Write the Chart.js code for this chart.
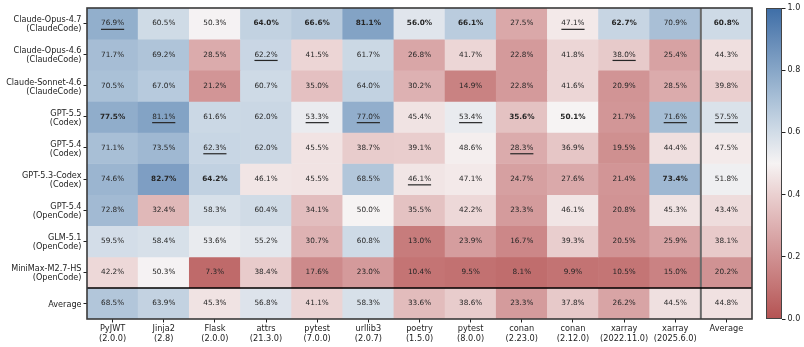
<!DOCTYPE html>
<html><head><meta charset="utf-8">
<script src="https://cdn.jsdelivr.net/npm/chart.js@4"></script>
<style>
html,body{margin:0;padding:0;background:#fff;}
#wrap{position:relative;width:804px;height:347px;overflow:hidden;}
#main{position:absolute;left:0;top:0;}
#cb{position:absolute;left:766px;top:0;}
</style></head><body>
<div id="wrap"><canvas id="main" width="804" height="347"></canvas><canvas id="cb" width="38" height="347"></canvas></div>
<script>
const rowLabels = [
  ["Claude-Opus-4.7","(ClaudeCode)"],
  ["Claude-Opus-4.6","(ClaudeCode)"],
  ["Claude-Sonnet-4.6","(ClaudeCode)"],
  ["GPT-5.5","(Codex)"],
  ["GPT-5.4","(Codex)"],
  ["GPT-5.3-Codex","(Codex)"],
  ["GPT-5.4","(OpenCode)"],
  ["GLM-5.1","(OpenCode)"],
  ["MiniMax-M2.7-HS","(OpenCode)"],
  ["Average"]
];
const colLabels = [
  ["PyJWT","(2.0.0)"],["Jinja2","(2.8)"],["Flask","(2.0.0)"],["attrs","(21.3.0)"],
  ["pytest","(7.0.0)"],["urllib3","(2.0.7)"],["poetry","(1.5.0)"],["pytest","(8.0.0)"],
  ["conan","(2.23.0)"],["conan","(2.12.0)"],["xarray","(2022.11.0)"],["xarray","(2025.6.0)"],["Average"]
];
const claudeOpus47   = [76.9,60.5,50.3,64.0,66.6,81.1,56.0,66.1,27.5,47.1,62.7,70.9,60.8];
const claudeOpus46   = [71.7,69.2,28.5,62.2,41.5,61.7,26.8,41.7,22.8,41.8,38.0,25.4,44.3];
const claudeSonnet46 = [70.5,67.0,21.2,60.7,35.0,64.0,30.2,14.9,22.8,41.6,20.9,28.5,39.8];
const gpt55Codex     = [77.5,81.1,61.6,62.0,53.3,77.0,45.4,53.4,35.6,50.1,21.7,71.6,57.5];
const gpt54Codex     = [71.1,73.5,62.3,62.0,45.5,38.7,39.1,48.6,28.3,36.9,19.5,44.4,47.5];
const gpt53Codex     = [74.6,82.7,64.2,46.1,45.5,68.5,46.1,47.1,24.7,27.6,21.4,73.4,51.8];
const gpt54OpenCode  = [72.8,32.4,58.3,60.4,34.1,50.0,35.5,42.2,23.3,46.1,20.8,45.3,43.4];
const glm51OpenCode  = [59.5,58.4,53.6,55.2,30.7,60.8,13.0,23.9,16.7,39.3,20.5,25.9,38.1];
const minimaxOpenCode= [42.2,50.3,7.3,38.4,17.6,23.0,10.4,9.5,8.1,9.9,10.5,15.0,20.2];
const averageRow     = [68.5,63.9,45.3,56.8,41.1,58.3,33.6,38.6,23.3,37.8,26.2,44.5,44.8];
const rowValues = [claudeOpus47,claudeOpus46,claudeSonnet46,gpt55Codex,gpt54Codex,gpt53Codex,gpt54OpenCode,glm51OpenCode,minimaxOpenCode,averageRow];
const colorbarTicks = [0.0,0.2,0.4,0.6,0.8,1.0];

const FONT = '"DejaVu Sans", sans-serif';
Chart.defaults.font.family = FONT;

const cmapStops = [
  [0.00,[180,82,82]],[0.10,[195,115,115]],[0.20,[208,145,146]],[0.30,[221,176,177]],
  [0.40,[234,208,208]],[0.50,[246,243,243]],[0.60,[209,220,231]],[0.70,[172,194,216]],
  [0.80,[135,166,199]],[0.90,[100,138,183]],[1.00,[62,110,167]]
];
function cmap(v){
  v = Math.max(0, Math.min(1, v));
  for (let i=1;i<cmapStops.length;i++){
    const [p1,c1]=cmapStops[i-1],[p2,c2]=cmapStops[i];
    if (v<=p2){
      const t=(v-p1)/(p2-p1);
      return 'rgb('+c1.map((c,k)=>Math.round(c+(c2[k]-c)*t)).join(',')+')';
    }
  }
  return 'rgb(62,110,167)';
}

// rank per column among model rows (exclude Average row)
const nModels = rowValues.length - 1;
const styleOf = rowValues.map(()=>colLabels.map(()=>''));
colLabels.forEach((_,j)=>{
  const col = [];
  for (let r=0;r<nModels;r++) col.push([rowValues[r][j], r]);
  col.sort((a,b)=>b[0]-a[0]);
  styleOf[col[0][1]][j]='best';
  styleOf[col[1][1]][j]='second';
});

const datasets = rowValues.map((vals,r)=>({
  label: rowLabels[r].join(' '),
  data: vals.map(()=>[r, r+1]),
  backgroundColor: vals.map(v=>cmap(v/100)),
  borderWidth: 0,
  barPercentage: 1,
  categoryPercentage: 1
}));

const cellText = {
  id:'cellText',
  afterDatasetsDraw(chart){
    const ctx = chart.ctx;
    ctx.save();
    ctx.textAlign='center'; ctx.textBaseline='middle';
    rowValues.forEach((vals,r)=>{
      const meta = chart.getDatasetMeta(r);
      vals.forEach((v,j)=>{
        const el = meta.data[j];
        const x = el.x, y = (el.y+el.base)/2;
        const s = styleOf[r][j];
        ctx.font = (s==='best'?'bold ':'')+'7.3px '+FONT;
        ctx.fillStyle = '#262626';
        const txt = v.toFixed(1)+'%';
        ctx.fillText(txt, x, y);
        if (s==='second'){
          const w = ctx.measureText(txt).width;
          ctx.strokeStyle='#262626'; ctx.lineWidth=1.2;
          ctx.beginPath(); ctx.moveTo(x-w/2, y+5.8); ctx.lineTo(x+w/2, y+5.8); ctx.stroke();
        }
      });
    });
    // separators
    const a = chart.chartArea;
    const lastMeta = chart.getDatasetMeta(0);
    const el = lastMeta.data[colLabels.length-1];
    const xs = el.x - el.width/2;
    ctx.strokeStyle='#6a6a6a'; ctx.lineWidth=2;
    ctx.beginPath(); ctx.moveTo(xs,a.top); ctx.lineTo(xs,a.bottom); ctx.stroke();
    const ys = chart.scales.y.getPixelForValue(rowValues.length-1);
    ctx.strokeStyle='#000'; ctx.lineWidth=1.5;
    ctx.beginPath(); ctx.moveTo(a.left,ys); ctx.lineTo(a.right,ys); ctx.stroke();
    ctx.strokeStyle='#3a3a3a'; ctx.lineWidth=1.6;
    ctx.strokeRect(a.left, a.top, a.right-a.left, a.bottom-a.top);
    ctx.restore();
  }
};

new Chart(document.getElementById('main'), {
  type:'bar',
  data:{ labels: colLabels, datasets },
  options:{
    responsive:false, animation:false,
    layout:{ padding:{ left:0, top:8, right:52, bottom:0 } },
    plugins:{ legend:{display:false}, tooltip:{enabled:false} },
    scales:{
      x:{
        stacked:true,
        grid:{ display:true, drawOnChartArea:false, offset:false, tickLength:3.5, color:'#222', lineWidth:1 },
        border:{ display:false },
        ticks:{ color:'#222', font:{size:8.2, lineHeight:1.17}, padding:2, maxRotation:0, autoSkip:false },
        afterFit(s){ s.height = 28; }
      },
      y:{
        stacked:false, min:0, max:rowValues.length, reverse:true,
        afterBuildTicks(s){ s.ticks = rowLabels.map((_,i)=>({value:i+0.5})); },
        grid:{ display:true, drawOnChartArea:false, tickLength:3.5, color:'#222', lineWidth:1 },
        border:{ display:false },
        ticks:{ color:'#222', font:{size:8.1, lineHeight:1.12}, padding:2, autoSkip:false, labelOffset:1.2,
          callback:(v,i)=>rowLabels[i] },
        afterFit(s){ s.width = 87; }
      }
    }
  },
  plugins:[cellText]
});

const cbFrame = {
  id:'cbFrame',
  afterDatasetsDraw(chart){
    const a = chart.chartArea, ctx = chart.ctx;
    ctx.save(); ctx.strokeStyle='#444'; ctx.lineWidth=1;
    ctx.strokeRect(a.left+0.5, a.top+0.5, a.right-a.left-1, a.bottom-a.top-1);
    ctx.restore();
  }
};
new Chart(document.getElementById('cb'), {
  type:'bar',
  data:{ labels:['scale'], datasets:[{
    data:[[colorbarTicks[0], colorbarTicks[colorbarTicks.length-1]]],
    backgroundColor:(c)=>{
      const a = c.chart.chartArea; if(!a) return 'rgba(0,0,0,0)';
      const g = c.chart.ctx.createLinearGradient(0,a.bottom,0,a.top);
      cmapStops.forEach(s=>g.addColorStop(s[0],'rgb('+s[1].join(',')+')'));
      return g;
    },
    borderWidth:0, barPercentage:1, categoryPercentage:1
  }]},
  options:{
    responsive:false, animation:false,
    layout:{ padding:{ left:0, top:8, right:0, bottom:28 } },
    plugins:{ legend:{display:false}, tooltip:{enabled:false} },
    scales:{
      x:{ display:false },
      y:{ position:'right', min:0, max:1,
        afterBuildTicks(s){ s.ticks = colorbarTicks.map(v=>({value:v})); },
        ticks:{ color:'#222', font:{size:8}, padding:2, callback:(v)=>v.toFixed(1) },
        grid:{ drawOnChartArea:false, tickLength:3.5, color:'#222' },
        border:{ display:false },
        afterFit(s){ s.width = 22; }
      }
    }
  },
  plugins:[cbFrame]
});
</script>
</body></html>
